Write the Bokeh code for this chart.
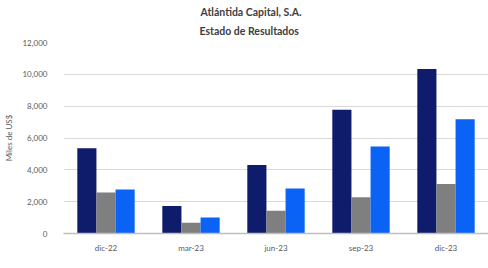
from bokeh.plotting import figure
from bokeh.models import ColumnDataSource, FactorRange, Range1d, Legend, LegendItem, Title, NumeralTickFormatter, FixedTicker
from bokeh.transform import dodge
from bokeh.embed import file_html
from bokeh.resources import INLINE

periods = ["dic-22", "mar-23", "jun-23", "sep-23", "dic-23"]
ingresos = [5350, 1720, 4300, 7770, 10330]
gastos = [2570, 680, 1430, 2270, 3110]
resultado = [2760, 1010, 2820, 5470, 7180]
series_names = ["Ingresos", "Gastos", "Resultado"]
colors = ["#0F1B6B", "#7F7F7F", "#0A63F5"]
y_ticks = [0, 2000, 4000, 6000, 8000, 10000, 12000]

FONT = "Lato"
TXT = "#595959"

src = ColumnDataSource(dict(p=periods, Ingresos=ingresos, Gastos=gastos, Resultado=resultado))

p = figure(x_range=FactorRange(*periods, range_padding=0), y_range=Range1d(0, 12000),
           frame_width=425, frame_height=191, output_backend="svg", toolbar_location=None,
           min_border_left=63, min_border_right=0, min_border_top=42, min_border_bottom=0)
p.outline_line_color = None
p.background_fill_color = "white"

bw = 0.225
offsets = [-bw, 0, bw]
renderers = []
for name, col, off in zip(series_names, colors, offsets):
    r = p.vbar(x=dodge("p", off, range=p.x_range), top=name, width=bw, source=src,
               fill_color=col, line_color=None)
    renderers.append(r)

p.xgrid.grid_line_color = None
p.ygrid.grid_line_color = "#D9D9D9"
p.ygrid.grid_line_width = 1

p.yaxis.ticker = FixedTicker(ticks=y_ticks)
p.yaxis.formatter = NumeralTickFormatter(format="0,0")
p.yaxis.axis_line_color = None
p.yaxis.major_tick_line_color = None
p.yaxis.minor_tick_line_color = None
p.yaxis.major_label_text_font = FONT
p.yaxis.major_label_text_font_size = "8px"
p.yaxis.major_label_text_color = TXT
p.yaxis.major_label_standoff = 10
p.yaxis.axis_label = "Miles de US$"
p.yaxis.axis_label_text_font = FONT
p.yaxis.axis_label_text_font_size = "8px"
p.yaxis.axis_label_text_font_style = "normal"
p.yaxis.axis_label_text_color = TXT
p.yaxis.axis_label_standoff = 5

p.xaxis.axis_line_color = "#BFBFBF"
p.xaxis.axis_line_width = 1.5
p.xaxis.major_tick_line_color = None
p.xaxis.minor_tick_line_color = None
p.xaxis.major_label_text_font = FONT
p.xaxis.major_label_text_font_size = "8px"
p.xaxis.major_label_text_color = TXT
p.xaxis.major_label_standoff = 3

legend = Legend(items=[LegendItem(label=n, renderers=[r]) for n, r in zip(series_names, renderers)],
                orientation="horizontal", location=(62, 0),
                glyph_width=6, glyph_height=6, label_standoff=3, spacing=60,
                label_text_font=FONT, label_text_font_size="8px", label_text_color=TXT,
                padding=0, margin=0, border_line_color=None, background_fill_alpha=0)
p.add_layout(legend, "below")

t2 = Title(text="Estado de Resultados", align="left", text_font=FONT, text_font_size="10.5px",
           text_font_style="bold", text_color="#404040", offset=136, standoff=12)
t1 = Title(text="Atlántida Capital, S.A.", align="left", text_font=FONT, text_font_size="10.5px",
           text_font_style="bold", text_color="#404040", offset=137, standoff=-2)
p.add_layout(t2, "above")
p.add_layout(t1, "above")

open("out.html", "w").write(file_html(p, INLINE))
